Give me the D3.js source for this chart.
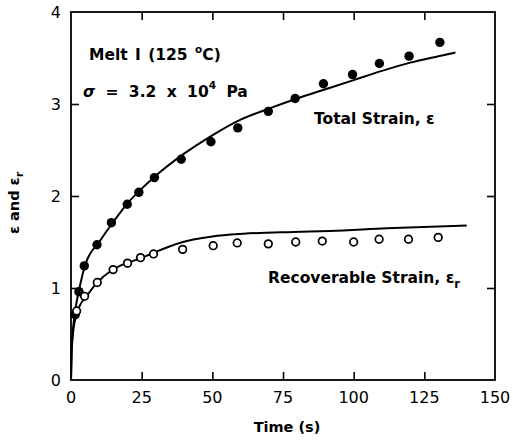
<!DOCTYPE html>
<html>
<head>
<meta charset="utf-8">
<script src="https://cdn.jsdelivr.net/npm/d3@7"></script>
<style>
  html, body { margin: 0; padding: 0; background: #fff; }
  svg { display: block; }
  text { fill: #000; }
</style>
</head>
<body>
<svg id="chart" width="513" height="446"></svg>
<script>
// Creep of Melt I at 125 °C: measured strains (symbols) and model curves (lines)
const totalTime   = [1.5, 2.8, 4.7, 9.2, 14.3, 19.9, 24.0, 29.5, 39.0, 49.5, 59.0, 69.8, 79.3, 89.3, 99.6, 109.1, 119.6, 130.5];
const totalStrain = [0.71, 0.96, 1.24, 1.47, 1.71, 1.91, 2.04, 2.20, 2.40, 2.59, 2.74, 2.92, 3.06, 3.22, 3.32, 3.44, 3.52, 3.67];

const recovTime   = [2.0, 4.8, 9.3, 14.9, 20.0, 24.6, 29.2, 39.5, 50.3, 58.8, 69.8, 79.5, 88.9, 100.0, 109.0, 119.4, 129.9];
const recovStrain = [0.75, 0.91, 1.06, 1.20, 1.27, 1.33, 1.37, 1.42, 1.46, 1.49, 1.48, 1.50, 1.51, 1.50, 1.53, 1.53, 1.55];

const totalFitTime   = [0, 0.2, 0.5, 1, 2, 3, 5, 10, 15, 20, 25, 30, 40, 50, 60, 70, 80, 90, 100, 110, 120, 130, 136];
const totalFitStrain = [0, 0.30, 0.48, 0.64, 0.85, 1.00, 1.25, 1.50, 1.72, 1.92, 2.08, 2.22, 2.46, 2.66, 2.83, 2.95, 3.06, 3.16, 3.26, 3.36, 3.45, 3.52, 3.56];

const recovFitTime   = [0, 0.2, 0.5, 1, 3, 5.5, 9, 14.3, 19.6, 24.4, 29, 38.4, 50, 61, 78.6, 91.6, 111.7, 140];
const recovFitStrain = [0, 0.28, 0.44, 0.58, 0.80, 0.91, 1.05, 1.19, 1.27, 1.32, 1.38, 1.49, 1.56, 1.59, 1.61, 1.62, 1.65, 1.68];

const xTicks = [0, 25, 50, 75, 100, 125, 150];
const yTicks = [0, 1, 2, 3, 4];

const svg = d3.select("#chart");
const margin = { left: 71, right: 18, top: 12, bottom: 66 };
const W = 513, H = 446;

const x = d3.scaleLinear().domain([0, 150]).range([margin.left, W - margin.right]);
const y = d3.scaleLinear().domain([0, 4]).range([H - margin.bottom, margin.top]);

const numFont = "'DejaVu Sans', sans-serif";
const boldFont = "'DejaVu Sans', sans-serif";

// frame
svg.append("rect")
  .attr("x", x(0)).attr("y", y(4))
  .attr("width", x(150) - x(0)).attr("height", y(0) - y(4))
  .attr("fill", "none").attr("stroke", "#000").attr("stroke-width", 1.8);

const tickLen = 8;
const innerX = xTicks.filter(d => d > 0 && d < 150);
const innerY = yTicks.filter(d => d > 0 && d < 4);

// inward ticks on all four sides
const bottomAxis = d3.axisBottom(x).tickValues(innerX).tickSizeInner(-tickLen).tickSizeOuter(0).tickFormat("");
const topAxis = d3.axisTop(x).tickValues(innerX).tickSizeInner(-tickLen).tickSizeOuter(0).tickFormat("");
const leftAxis = d3.axisLeft(y).tickValues(innerY).tickSizeInner(-tickLen).tickSizeOuter(0).tickFormat("");
const rightAxis = d3.axisRight(y).tickValues(innerY).tickSizeInner(-tickLen).tickSizeOuter(0).tickFormat("");

[[bottomAxis, `translate(0,${y(0)})`], [topAxis, `translate(0,${y(4)})`],
 [leftAxis, `translate(${x(0)},0)`], [rightAxis, `translate(${x(150)},0)`]].forEach(([ax, tr]) => {
  const g = svg.append("g").attr("transform", tr).call(ax);
  g.select(".domain").remove();
  g.selectAll(".tick line").attr("stroke", "#000").attr("stroke-width", 1.6);
});

// tick labels
svg.append("g").selectAll("text").data(xTicks).join("text")
  .attr("x", d => x(d)).attr("y", y(0) + 23)
  .attr("text-anchor", "middle")
  .attr("font-family", numFont).attr("font-size", 16)
  .text(d => d);

svg.append("g").selectAll("text").data(yTicks).join("text")
  .attr("x", x(0) - 10).attr("y", d => y(d) + 6)
  .attr("text-anchor", "end")
  .attr("font-family", numFont).attr("font-size", 16)
  .text(d => d);

// axis titles
svg.append("text")
  .attr("x", (x(0) + x(150)) / 2 + 4).attr("y", 432)
  .attr("text-anchor", "middle")
  .attr("font-family", boldFont).attr("font-weight", "bold").attr("font-size", 14.5)
  .text("Time (s)");

const yTitle = svg.append("text")
  .attr("transform", `translate(19,203) rotate(-90)`)
  .attr("text-anchor", "middle")
  .attr("font-family", boldFont).attr("font-weight", "bold").attr("font-size", 14.5);
yTitle.append("tspan").text("ε and ε");
yTitle.append("tspan").attr("dy", 4).attr("font-size", 11).text("r");

// model curves
const line = d3.line().x(d => x(d[0])).y(d => y(d[1])).curve(d3.curveMonotoneX);
svg.append("path")
  .datum(d3.zip(totalFitTime, totalFitStrain))
  .attr("d", line).attr("fill", "none").attr("stroke", "#000").attr("stroke-width", 2);
svg.append("path")
  .datum(d3.zip(recovFitTime, recovFitStrain))
  .attr("d", line).attr("fill", "none").attr("stroke", "#000").attr("stroke-width", 2);

// measured points
svg.append("g").selectAll("circle").data(d3.zip(totalTime, totalStrain)).join("circle")
  .attr("cx", d => x(d[0])).attr("cy", d => y(d[1])).attr("r", 4.7)
  .attr("fill", "#000");
svg.append("g").selectAll("circle").data(d3.zip(recovTime, recovStrain)).join("circle")
  .attr("cx", d => x(d[0])).attr("cy", d => y(d[1])).attr("r", 3.8)
  .attr("fill", "#fff").attr("stroke", "#000").attr("stroke-width", 1.7);

// annotations
const note = (tx, ty) => svg.append("text")
  .attr("x", tx).attr("y", ty)
  .attr("font-family", boldFont).attr("font-weight", "bold").attr("font-size", 15.5);

const t1 = note(89, 60).attr("word-spacing", 2);
t1.append("tspan").text("Melt I (125 ");
t1.append("tspan").attr("dy", -7).attr("font-size", 10.5).text("o");
t1.append("tspan").attr("dy", 7).text("C)");

const t2 = note(83, 97).attr("word-spacing", 5);
t2.append("tspan").attr("font-style", "italic").text("σ");
t2.append("tspan").text(" = 3.2 x 10");
t2.append("tspan").attr("dy", -8).attr("font-size", 10.5).text("4");
t2.append("tspan").attr("dy", 8).text(" Pa");

note(314, 124).text("Total Strain, ε");

const t4 = note(268, 283);
t4.append("tspan").text("Recoverable Strain, ε");
t4.append("tspan").attr("dy", 5).attr("font-size", 11.5).text("r");
</script>
</body>
</html>
